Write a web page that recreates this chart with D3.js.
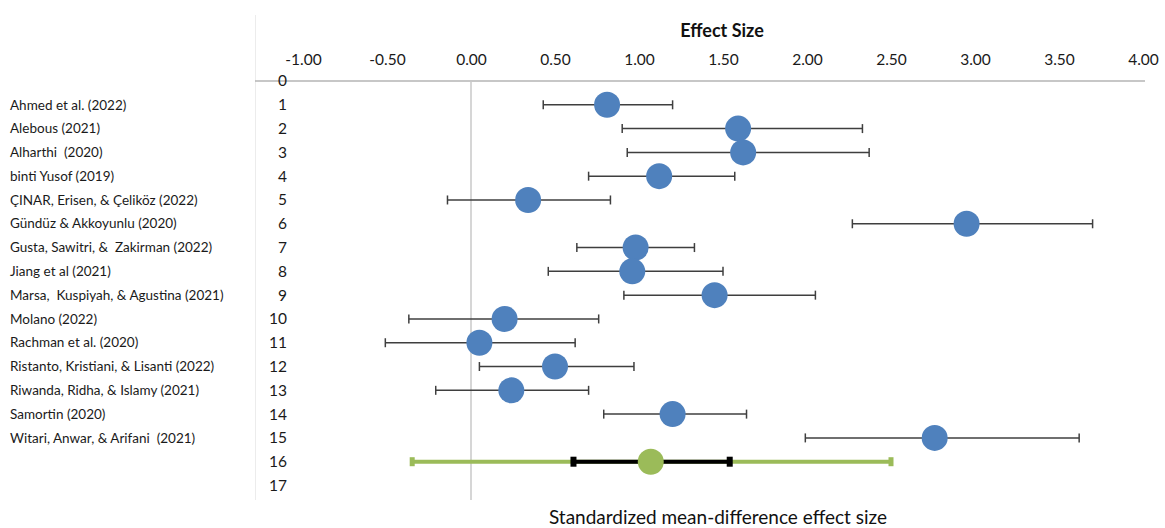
<!DOCTYPE html>
<html>
<head>
<meta charset="utf-8">
<script src="https://cdn.jsdelivr.net/npm/d3@7"></script>
<style>
  body { margin: 0; background: #fff; }
  svg { font-family: Lato, "Open Sans", sans-serif; }
  text { white-space: pre; }
</style>
</head>
<body>
<div id="chart"></div>
<script>
// study names, one per row (rows 1..15)
const studies = [
  "Ahmed et al. (2022)",
  "Alebous (2021)",
  "Alharthi  (2020)",
  "binti Yusof (2019)",
  "ÇINAR, Erisen, & Çeliköz (2022)",
  "Gündüz & Akkoyunlu (2020)",
  "Gusta, Sawitri, &  Zakirman (2022)",
  "Jiang et al (2021)",
  "Marsa,  Kuspiyah, & Agustina (2021)",
  "Molano (2022)",
  "Rachman et al. (2020)",
  "Ristanto, Kristiani, & Lisanti (2022)",
  "Riwanda, Ridha, & Islamy (2021)",
  "Samortin (2020)",
  "Witari, Anwar, & Arifani  (2021)"
];
const effect = [0.81, 1.59, 1.62, 1.12, 0.34, 2.95, 0.98, 0.96, 1.45, 0.20, 0.05, 0.50, 0.24, 1.20, 2.76];
const lower  = [0.43, 0.90, 0.93, 0.70, -0.14, 2.27, 0.63, 0.46, 0.91, -0.37, -0.51, 0.05, -0.21, 0.79, 1.99];
const upper  = [1.20, 2.33, 2.37, 1.57, 0.83, 3.70, 1.33, 1.50, 2.05, 0.76, 0.62, 0.97, 0.70, 1.64, 3.62];

// pooled estimate (row 16)
const pooledEffect = 1.07;
const pooledCI = [0.61, 1.54];
const pooledPI = [-0.35, 2.50];

const xTicks = [-1, -0.5, 0, 0.5, 1, 1.5, 2, 2.5, 3, 3.5, 4];
const rowTicks = d3.range(0, 18);

const width = 1165, height = 528;
const svg = d3.select("#chart").append("svg")
  .attr("width", width)
  .attr("height", height);

const x = d3.scaleLinear().domain([-1, 4]).range([303, 1143]);
const y = d3.scaleLinear().domain([0, 17]).range([81, 485.5]);

// faint plot border on the left
svg.append("line")
  .attr("x1", 255.5).attr("x2", 255.5)
  .attr("y1", 15).attr("y2", 500)
  .attr("stroke", "#ececec");

// top axis
const xAxis = svg.append("g")
  .attr("transform", `translate(0,${y(0)})`)
  .call(d3.axisTop(x).tickValues(xTicks).tickFormat(d => d.toFixed(2)).tickSize(0).tickPadding(16));
xAxis.select(".domain").remove();
xAxis.selectAll("text")
  .attr("font-size", 15.5)
  .attr("fill", "#1a1a1a")
  .attr("font-family", "Lato, sans-serif");

svg.append("line")
  .attr("x1", 255).attr("x2", 1145)
  .attr("y1", y(0)).attr("y2", y(0))
  .attr("stroke", "#b5b5b5").attr("stroke-width", 1.5);

// zero line
svg.append("line")
  .attr("x1", x(0)).attr("x2", x(0))
  .attr("y1", y(0)).attr("y2", 500)
  .attr("stroke", "#c8c8c8").attr("stroke-width", 1.5);

// row numbers
svg.append("g").selectAll("text")
  .data(rowTicks)
  .enter().append("text")
  .attr("x", 287)
  .attr("y", d => y(d))
  .attr("dy", "0.35em")
  .attr("text-anchor", "end")
  .attr("font-size", 15.5)
  .attr("fill", "#1a1a1a")
  .text(d => d);

// study labels
svg.append("g").selectAll("text")
  .data(studies)
  .enter().append("text")
  .attr("x", 10)
  .attr("y", (d, i) => y(i + 1))
  .attr("dy", "0.35em")
  .attr("font-size", 13.5)
  .attr("fill", "#1a1a1a")
  .text(d => d);

// error bars
const bars = svg.append("g");
studies.forEach((s, i) => {
  const yy = y(i + 1);
  bars.append("line")
    .attr("x1", x(lower[i])).attr("x2", x(upper[i]))
    .attr("y1", yy).attr("y2", yy)
    .attr("stroke", "#3f3f3f").attr("stroke-width", 1.5);
  [lower[i], upper[i]].forEach(v => {
    bars.append("line")
      .attr("x1", x(v)).attr("x2", x(v))
      .attr("y1", yy - 4.5).attr("y2", yy + 4.5)
      .attr("stroke", "#3f3f3f").attr("stroke-width", 1.5);
  });
});

svg.append("g").selectAll("circle")
  .data(effect)
  .enter().append("circle")
  .attr("cx", d => x(d))
  .attr("cy", (d, i) => y(i + 1))
  .attr("r", 13)
  .attr("fill", "#4f81bd");

// pooled row
const yp = y(16);
svg.append("line")
  .attr("x1", x(pooledPI[0])).attr("x2", x(pooledPI[1]))
  .attr("y1", yp).attr("y2", yp)
  .attr("stroke", "#9bbb59").attr("stroke-width", 4);
pooledPI.forEach(v => {
  svg.append("rect")
    .attr("x", x(v) - 2.5).attr("y", yp - 4.5)
    .attr("width", 5).attr("height", 9)
    .attr("fill", "#9bbb59");
});
svg.append("line")
  .attr("x1", x(pooledCI[0])).attr("x2", x(pooledCI[1]))
  .attr("y1", yp).attr("y2", yp)
  .attr("stroke", "#000").attr("stroke-width", 4);
pooledCI.forEach(v => {
  svg.append("rect")
    .attr("x", x(v) - 3).attr("y", yp - 5)
    .attr("width", 6).attr("height", 10)
    .attr("fill", "#000");
});
svg.append("circle")
  .attr("cx", x(pooledEffect)).attr("cy", yp)
  .attr("r", 13)
  .attr("fill", "#9bbb59");

// titles
svg.append("text")
  .attr("x", 722).attr("y", 37)
  .attr("text-anchor", "middle")
  .attr("font-size", 18).attr("font-weight", "bold")
  .attr("fill", "#111")
  .text("Effect Size");

svg.append("text")
  .attr("x", 718).attr("y", 524)
  .attr("text-anchor", "middle")
  .attr("font-size", 19)
  .attr("fill", "#111")
  .text("Standardized mean-difference effect size");
</script>
</body>
</html>
